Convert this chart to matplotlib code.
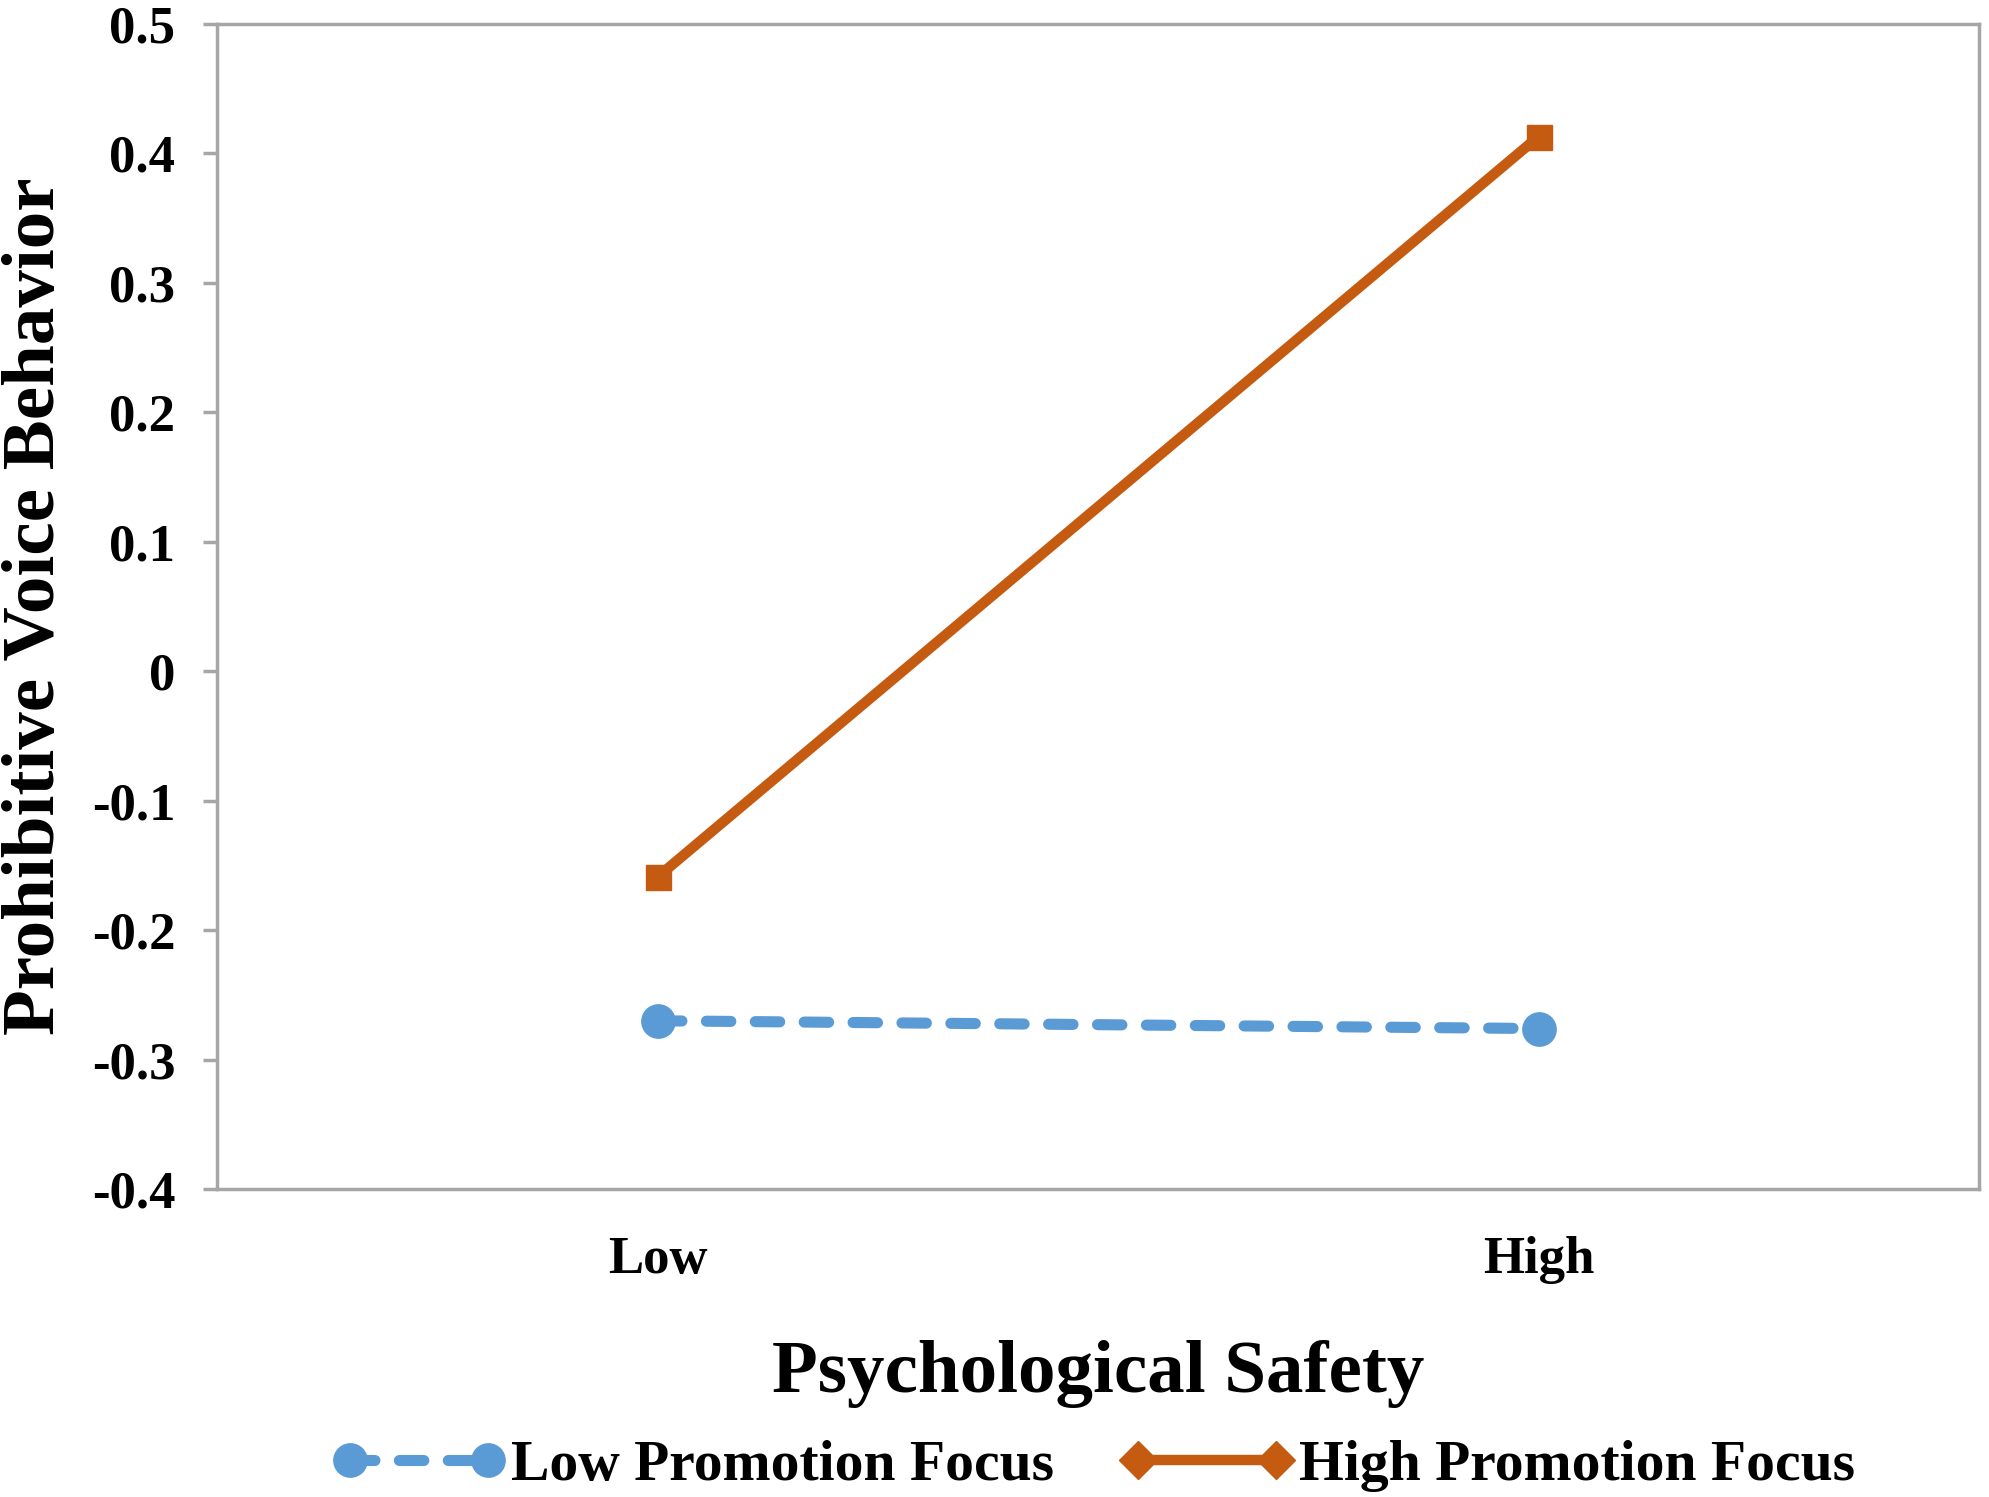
import matplotlib
matplotlib.use("Agg")
from matplotlib import pyplot as plt
from matplotlib.lines import Line2D

# Dati
categorie = ["Low", "High"]
low_promotion = [-0.270, -0.276]
high_promotion = [-0.159, 0.413]
serie_nomi = ["Low Promotion Focus", "High Promotion Focus"]
y_ticks = [0.5, 0.4, 0.3, 0.2, 0.1, 0, -0.1, -0.2, -0.3, -0.4]

blu = "#5B9BD5"
arancio = "#C55A11"
grigio = "#A6A6A6"

plt.rcParams["font.family"] = ["Liberation Serif", "DejaVu Serif"]
plt.rcParams["font.weight"] = "bold"

fig = plt.figure(figsize=(19.89, 14.97), dpi=100)
ax = fig.add_axes([0.1091, 0.2057, 0.8859, 0.7783])

x = list(range(len(categorie)))

# Linea tratteggiata blu
ax.plot(x, low_promotion, color=blu, lw=8, dashes=(2.2, 2.2),
        dash_capstyle="round", marker="o", markersize=24,
        markeredgecolor=blu)
# Linea continua arancione
ax.plot(x, high_promotion, color=arancio, lw=7.5, marker="s", markersize=18,
        markeredgecolor=arancio)

ax.set_xlim(-0.5, 1.5)
ax.set_ylim(-0.4, 0.5)
ax.set_xticks(x)
ax.set_xticklabels(categorie)
ax.set_yticks(y_ticks)
ax.set_yticklabels([f"{v:g}" for v in y_ticks])

for s in ax.spines.values():
    s.set_color(grigio)
    s.set_linewidth(2.5)

ax.tick_params(axis="y", length=10, width=2.5, color=grigio, pad=20, labelsize=38)
ax.tick_params(axis="x", length=0, pad=34, labelsize=38)

ax.set_xlabel("Psychological Safety", fontsize=54, fontweight="bold", labelpad=40)
ax.set_ylabel("Prohibitive Voice Behavior", fontsize=54, fontweight="bold", labelpad=16)

# Legenda in stile Excel (rombi per la serie arancione)
handles = [
    Line2D([0], [0], color=blu, lw=8, dashes=(2.2, 2.2), dash_capstyle="round",
           marker="o", markersize=24, markeredgecolor=blu),
    Line2D([0], [0], color=arancio, lw=7.5, marker="D", markersize=19,
           markeredgecolor=arancio),
]
fig.legend(handles, serie_nomi, loc="center", bbox_to_anchor=(0.55, 0.021),
           ncol=2, frameon=False, fontsize=41.5, numpoints=2,
           handlelength=3.0, handletextpad=0.1, columnspacing=1.15,
           borderaxespad=0)

plt.savefig("out.png", dpi=100)
